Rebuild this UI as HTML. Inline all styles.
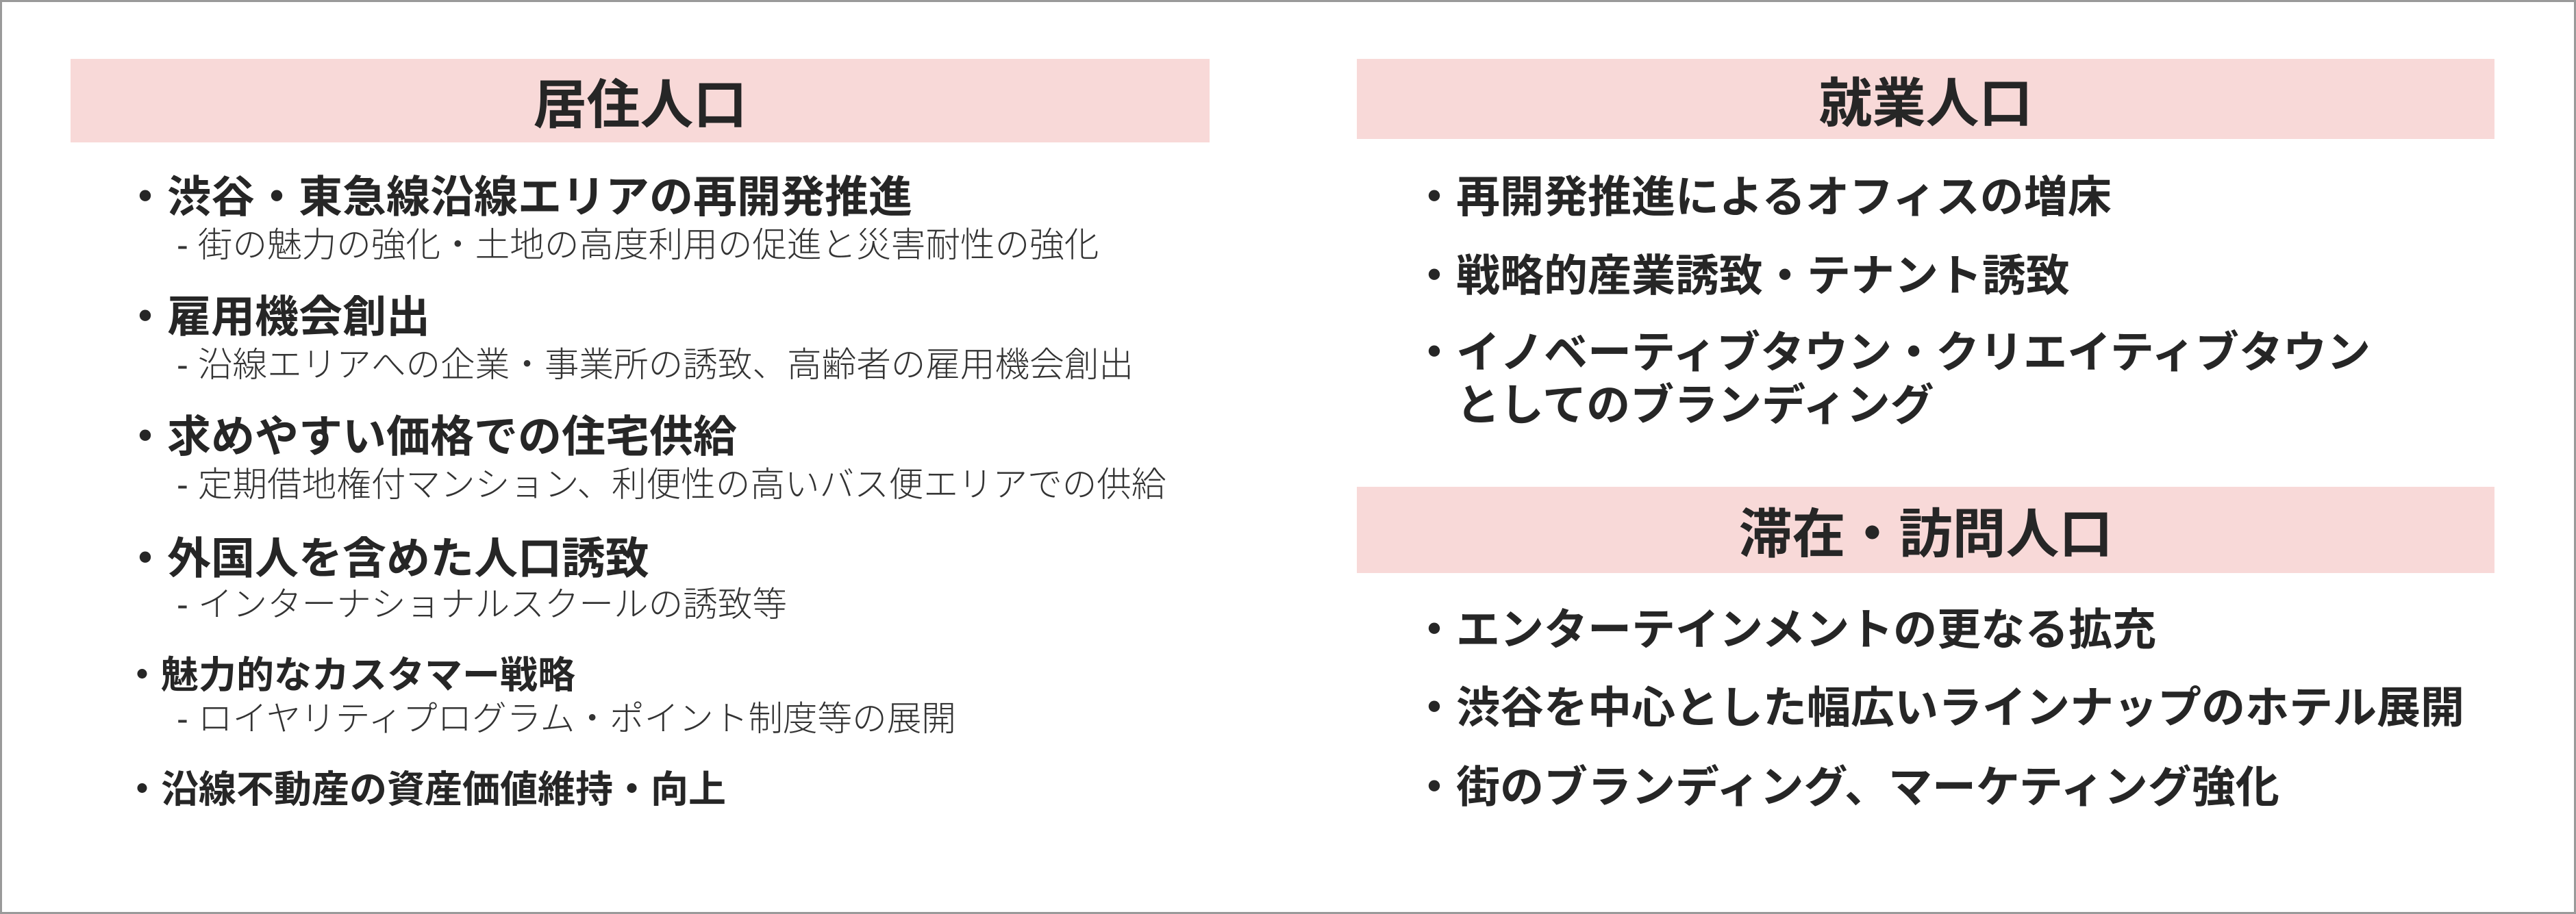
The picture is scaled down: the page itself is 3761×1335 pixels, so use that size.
<!DOCTYPE html>
<html><head><meta charset="utf-8">
<style>
html,body{margin:0;padding:0}
body{width:3761px;height:1335px;position:relative;background:#fff;overflow:hidden;font-family:"Liberation Sans","Noto Sans CJK JP",sans-serif;color:#262626}
.frame{position:absolute;left:0;top:0;width:3755px;height:1329px;border:3px solid #9a9a9a}
.hd{position:absolute;background:#f8d9d8;font-weight:700;font-size:78px;text-align:center;display:flex;align-items:center;justify-content:center}
.t{position:absolute;white-space:nowrap;line-height:1}
.m{font-weight:700}
.s{font-weight:300;color:#333}
</style></head><body>
<div class="frame"></div>
<div class="hd" style="left:103px;top:86px;width:1663px;height:122px">居住人口</div>
<div class="hd" style="left:1981px;top:86px;width:1661px;height:117px">就業人口</div>
<div class="hd" style="left:1981px;top:711px;width:1661px;height:126px">滞在・訪問人口</div>

<div class="t m" style="left:180px;top:256px;font-size:64px">・渋谷・東急線沿線エリアの再開発推進</div>
<div class="t s" style="left:258px;top:333px;font-size:50.6px">- 街の魅力の強化・土地の高度利用の促進と災害耐性の強化</div>
<div class="t m" style="left:180px;top:431px;font-size:64px">・雇用機会創出</div>
<div class="t s" style="left:258px;top:508px;font-size:50.6px">- 沿線エリアへの企業・事業所の誘致、高齢者の雇用機会創出</div>
<div class="t m" style="left:180px;top:606px;font-size:64px">・求めやすい価格での住宅供給</div>
<div class="t s" style="left:258px;top:683px;font-size:50.6px">- 定期借地権付マンション、利便性の高いバス便エリアでの供給</div>
<div class="t m" style="left:180px;top:784px;font-size:64px">・外国人を含めた人口誘致</div>
<div class="t s" style="left:258px;top:858px;font-size:50.6px">- インターナショナルスクールの誘致等</div>
<div class="t m" style="left:180px;top:959px;font-size:55px">・魅力的なカスタマー戦略</div>
<div class="t s" style="left:258px;top:1025px;font-size:50.6px">- ロイヤリティプログラム・ポイント制度等の展開</div>
<div class="t m" style="left:180px;top:1126px;font-size:55px">・沿線不動産の資産価値維持・向上</div>

<div class="t m" style="left:2062px;top:256px;font-size:64px">・再開発推進によるオフィスの増床</div>
<div class="t m" style="left:2062px;top:371px;font-size:64px">・戦略的産業誘致・テナント誘致</div>
<div class="t m" style="left:2062px;top:483px;font-size:64px">・イノベーティブタウン・クリエイティブタウン</div>
<div class="t m" style="left:2126px;top:560px;font-size:64px">としてのブランディング</div>
<div class="t m" style="left:2062px;top:888px;font-size:64px">・エンターテインメントの更なる拡充</div>
<div class="t m" style="left:2062px;top:1002px;font-size:64px">・渋谷を中心とした幅広いラインナップのホテル展開</div>
<div class="t m" style="left:2062px;top:1118px;font-size:64px">・街のブランディング、マーケティング強化</div>
</body></html>
